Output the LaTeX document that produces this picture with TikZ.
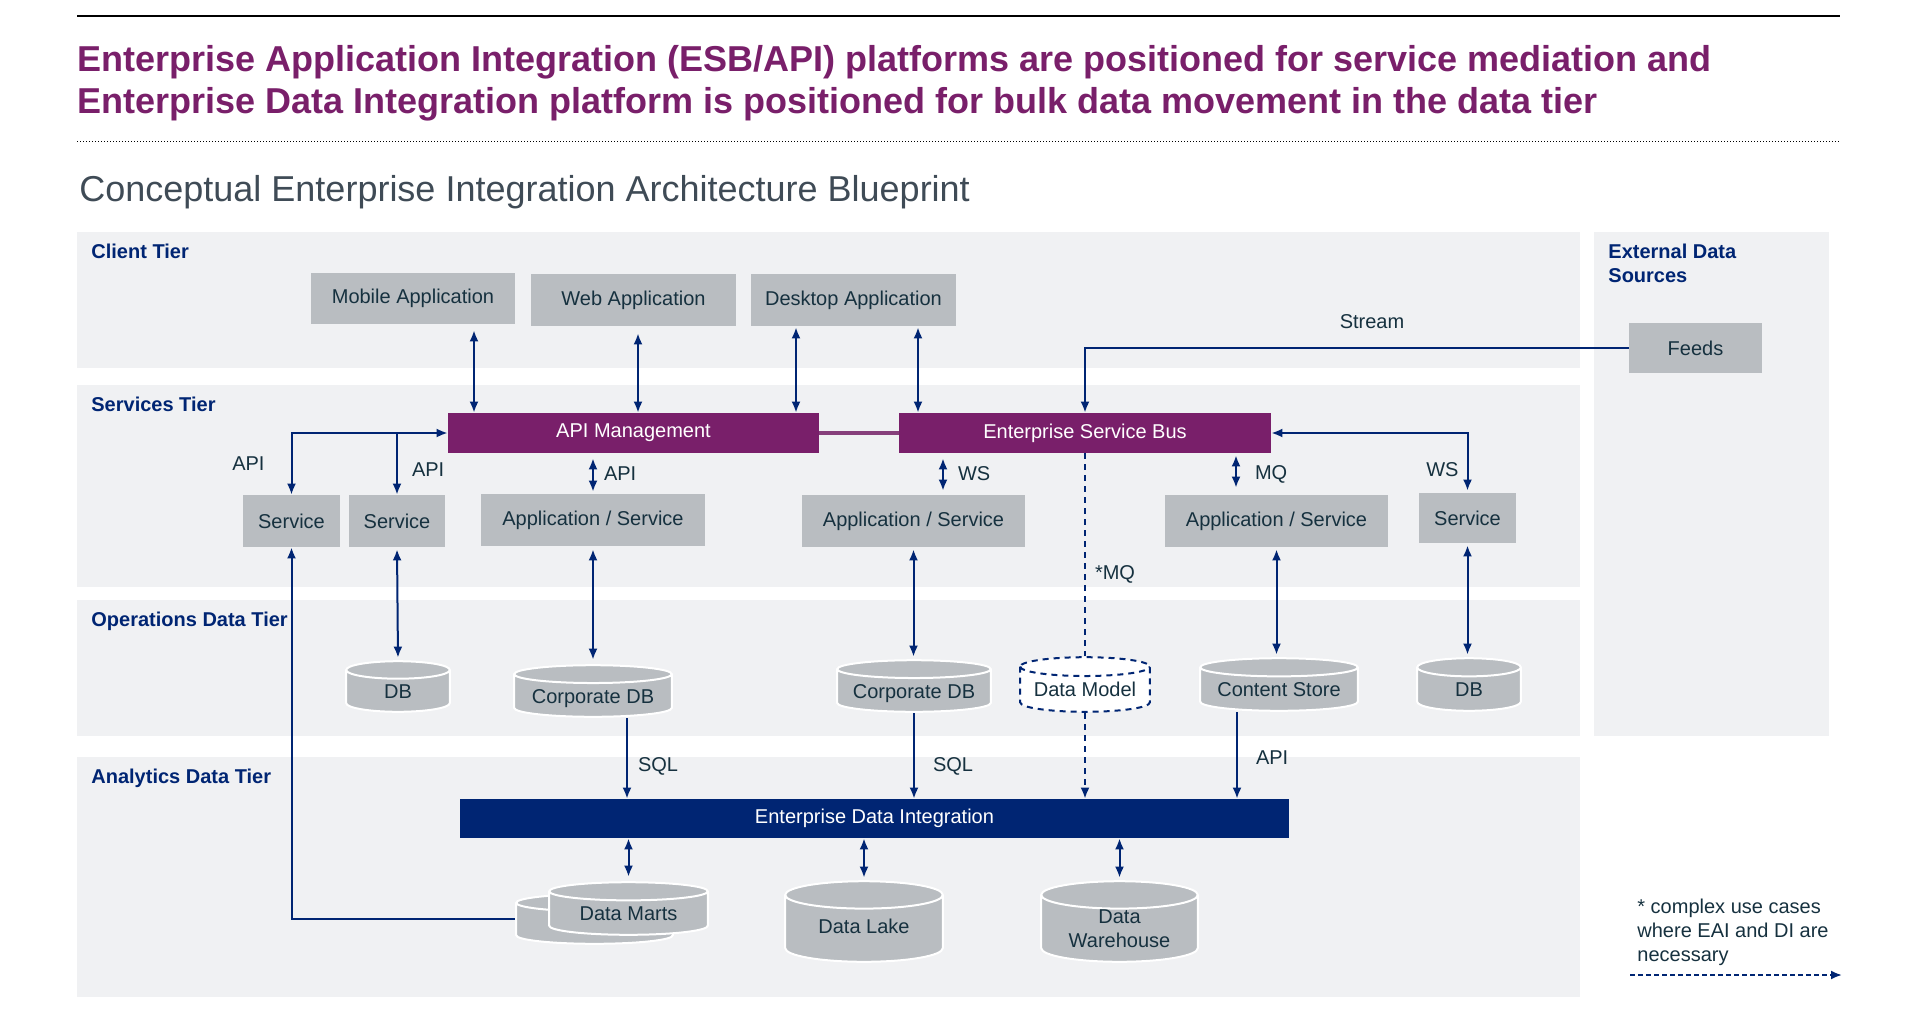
\documentclass[tikz,border=0pt]{standalone}
\usepackage{fontspec}
\setmainfont{Liberation Sans}
\usepackage{tikz}
\usetikzlibrary{arrows.meta,positioning,calc}
\definecolor{eaipurple}{RGB}{121,31,106}
\definecolor{navy}{RGB}{0,37,115}
\definecolor{boxgray}{RGB}{185,189,193}
\definecolor{tiergray}{RGB}{240,241,243}
\definecolor{ink}{RGB}{22,49,63}
\definecolor{subgray}{RGB}{63,75,86}
\tikzset{
  sz/.style 2 args={minimum width=#1*\px,minimum height=#2*\px},
  txt/.style={font=\fontsize{10}{12}\selectfont,text=ink},
  box/.style={txt,fill=boxgray,inner sep=0pt},
  bar/.style={box,fill=eaipurple,text=white},
  cyl/.style 2 args={path picture={
    \path let \p1=(path picture bounding box.south west), \p2=(path picture bounding box.north east),
      \n1={(\x2-\x1)/2-0.6pt}, \n2={0.165*(\y2-\y1)} in
      [fill=#1,draw=#2,line width=1pt] (\x1+0.6pt,\y2-\n2-0.6pt) -- (\x1+0.6pt,\y1+\n2+0.6pt)
        arc[start angle=180,end angle=360,x radius=\n1,y radius=\n2] -- (\x2-0.6pt,\y2-\n2-0.6pt)
        arc[start angle=0,end angle=180,x radius=\n1,y radius=\n2] -- cycle
      [draw=#2,line width=1pt] (\x1+0.6pt,\y2-\n2-0.6pt) arc[start angle=180,end angle=360,x radius=\n1,y radius=\n2];
  }},
  db/.style={txt,inner sep=0pt,align=center,text height=12.2pt,text depth=0pt,cyl={boxgray}{white}},
  tierlbl/.style={anchor=base west,inner sep=0pt,align=left,text=navy,font=\bfseries\fontsize{10}{12}\selectfont},
  lbl/.style={txt,inner sep=0pt},
  link/.style={draw=navy,line width=1pt,-{Latex[length=5.5pt,width=4.5pt]}},
  biarrow/.style={link,{Latex[length=5.5pt,width=4.5pt]}-{Latex[length=5.5pt,width=4.5pt]}},
  mqdash/.style={dash pattern=on 3pt off 2.5pt},
}
\begin{document}
\begin{tikzpicture}[x=0.5pt,y=-0.5pt]
  \def\px{0.5pt}
  \useasboundingbox (0,0) rectangle (1911,1017);
  \draw[line width=2*\px] (77,16) -- (1840,16);
  \node(title)[anchor=base west,inner sep=0pt,text=eaipurple,font=\bfseries\fontsize{18}{21}\selectfont] at (77,71) {Enterprise Application Integration (ESB/API) platforms are positioned for service mediation and};
  \node(titlenext)[anchor=base west,inner sep=0pt,text=eaipurple,font=\bfseries\fontsize{18}{21}\selectfont] at (77,113) {Enterprise Data Integration platform is positioned for bulk data movement in the data tier};
  \draw[densely dotted,line width=1*\px] (77,141) -- (1840,141);
  \node(blueprint)[anchor=base west,inner sep=0pt,text=subgray,font=\fontsize{18}{21}\selectfont] at (79,201) {Conceptual Enterprise Integration Architecture Blueprint};
  \fill[tiergray] (77,232) rectangle (1580,368);
  \fill[tiergray] (77,385) rectangle (1580,587);
  \fill[tiergray] (77,600) rectangle (1580,736);
  \fill[tiergray] (77,757) rectangle (1580,997);
  \fill[tiergray] (1594,232) rectangle (1829,736);
  \node(clienttier)[tierlbl] at (91,258) {Client Tier};
  \node(servicestier)[tierlbl] at (91,411) {Services Tier};
  \node(opstier)[tierlbl] at (91,626) {Operations Data Tier};
  \node(analyticstier)[tierlbl] at (91,783) {Analytics Data Tier};
  \node(exttier)[tierlbl] at (1608,282) {External Data\\Sources};
  \node(mobile)[box,sz={204}{51}] at (413,298.5) {Mobile Application};
  \node(web)[box,sz={205}{52}] at (633.5,300) {Web Application};
  \node(desktop)[box,sz={205}{52}] at (853.5,300) {Desktop Application};
  \node(feeds)[box,sz={133}{50}] at (1695.5,348) {Feeds};
  \node(apim)[bar,sz={371}{40}] at (633.5,433) {API Management};
  \node(esb)[bar,sz={372}{40}] at (1085,433) {Enterprise Service Bus};
  \node(svcA)[box,sz={97}{52}] at (291.5,521) {Service};
  \node(svcB)[box,sz={96}{52}] at (397,521) {Service};
  \node(appA)[box,sz={224}{52}] at (593,520) {Application / Service};
  \node(appB)[box,sz={223}{52}] at (913.5,521) {Application / Service};
  \node(appC)[box,sz={223}{52}] at (1276.5,521) {Application / Service};
  \node(svcC)[box,sz={97}{50}] at (1467.5,518) {Service};
  \node(dbA)[db,sz={106}{53}] at (398,686.5) {DB};
  \node(corpA)[db,sz={160}{54}] at (593,691) {Corporate DB};
  \node(corpB)[db,sz={156}{54}] at (914,686) {Corporate DB};
  \node(dmodel)[db,sz={132}{57},cyl={white}{navy},mqdash] at (1085,684.5) {Data Model};
  \node(content)[db,sz={160}{55}] at (1279,684.5) {Content Store};
  \node(dbB)[db,sz={106}{55}] at (1469,684.5) {DB};
  \node(edi)[box,fill=navy,text=white,sz={829}{39}] at (874.5,818.5) {Enterprise Data Integration};
  \node(martsback)[db,sz={159}{52}] at (594.5,919) {};
  \node(marts)[db,sz={161}{55}] at (628.5,908.5) {Data Marts};
  \node(lake)[db,sz={160}{83}] at (864,921.5) {Data Lake};
  \node(warehouse)[db,sz={159}{83},text height=25.5pt] at (1119.5,921.5) {Data\\Warehouse};
  \node(note)[lbl,anchor=base west,align=left] at (1637,961) {* complex use cases\\where EAI and DI are\\necessary};
  \coordinate(legA) at (1630,975);
  \coordinate(legB) at (1842,975);
  \draw[link,dash pattern=on 2.5pt off 1.5pt] (legA) -- (legB);
  \draw[biarrow,shorten <=3pt] (474,0 |- mobile.south) -- (474,0 |- apim.north);
  \draw[biarrow,shorten <=3.5pt] (638,0 |- web.south) -- (638,0 |- apim.north);
  \draw[biarrow,shorten <=0.5pt] (796,0 |- desktop.south) -- (796,0 |- apim.north);
  \draw[biarrow,shorten <=0.5pt] (918,0 |- desktop.south) -- (918,0 |- esb.north);
  \draw[link] (feeds.west) -| (esb.north) node[pos=0.236,above=9pt,lbl] {Stream};
  \draw[line width=4*\px,eaipurple!80!boxgray] (apim.east) -- (esb.west);
  \draw[biarrow] (svcA.north) |- (apim.west) node[pos=0.25,left=13pt,lbl] {API};
  \draw[link] (svcB.north |- apim.west) -- (svcB.north) node[pos=0.6,right=7pt,lbl] {API};
  \draw[biarrow,shorten <=2.5pt,shorten >=1pt] (apim.south -| appA.north) -- (appA.north) node[midway,right=5pt,lbl] {API};
  \draw[biarrow,shorten <=2.5pt,shorten >=2pt] (943,0 |- esb.south) -- (943,0 |- appB.north) node[midway,right=7pt,lbl] {WS};
  \draw[biarrow,shorten <=1pt,shorten >=3.5pt] (1236,0 |- esb.south) -- (1236,0 |- appC.north) node[midway,right=9pt,lbl] {MQ};
  \draw[biarrow,shorten <=1pt] (svcC.north) |- (esb.east) node[pos=0.19,left=4pt,lbl] {WS};
  \draw[navy,line width=1pt,mqdash] (esb.south) -- (dmodel.north) node[pos=0.6,right=4.5pt,lbl] {*MQ};
  \draw[link,mqdash] (dmodel.south) -- (dmodel.south |- edi.north);
  \draw[biarrow,shorten <=1pt,shorten >=1pt] (svcB.south) -- (dbA.north);
  \draw[biarrow,shorten <=1.5pt,shorten >=2pt] (appA.south) -- (appA.south |- corpA.north);
  \draw[biarrow,shorten <=1pt,shorten >=1pt] (appB.south) -- (appB.south |- corpB.north);
  \draw[biarrow,shorten <=1pt,shorten >=1pt] (appC.south) -- (appC.south |- content.north);
  \draw[biarrow,shorten <=1pt,shorten >=1pt] (svcC.south) -- (svcC.south |- dbB.north);
  \draw[link] (martsback.west) -| (svcA.south);
  \draw[link] (627,0 |- corpA.south) -- (627,0 |- edi.north) node[pos=0.6,right=5pt,lbl] {SQL};
  \draw[link] (corpB.south) -- (corpB.south |- edi.north) node[pos=0.62,right=9pt,lbl] {SQL};
  \draw[link] (1237,0 |- content.south) -- (1237,0 |- edi.north) node[pos=0.52,right=9pt,lbl] {API};
  \draw[biarrow,shorten >=2pt] (marts.north |- edi.south) -- (marts.north);
  \draw[biarrow,shorten >=1pt] (lake.north |- edi.south) -- (lake.north);
  \draw[biarrow,shorten >=1pt] (warehouse.north |- edi.south) -- (warehouse.north);
\end{tikzpicture}
\end{document}
